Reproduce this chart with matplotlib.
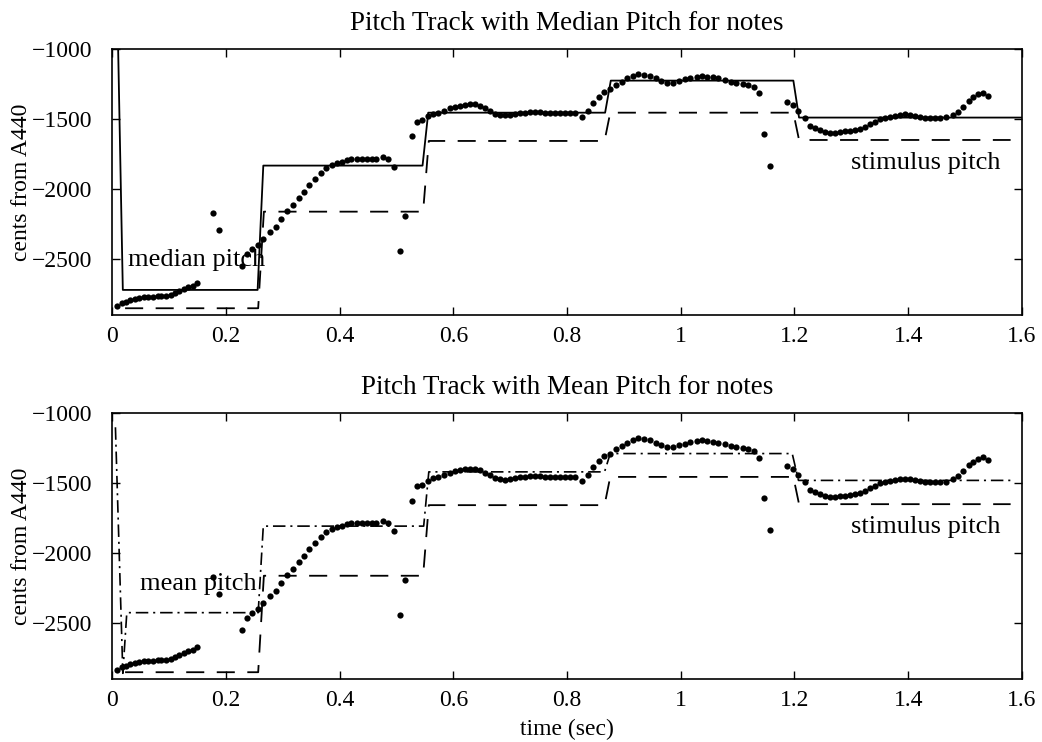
import matplotlib
matplotlib.use("Agg")
import matplotlib.pyplot as plt

# pitch track (time in sec, cents from A440)
track_t = [0.009, 0.017, 0.025, 0.032, 0.040, 0.048, 0.056, 0.064, 0.072, 0.080,
           0.087, 0.095, 0.103, 0.111, 0.118, 0.126, 0.134, 0.142, 0.149,
           0.177, 0.188,
           0.228, 0.237, 0.247, 0.257, 0.266, 0.278, 0.288, 0.297, 0.307, 0.318,
           0.328, 0.338, 0.347, 0.357, 0.367, 0.376, 0.386, 0.395, 0.404, 0.413,
           0.421, 0.430, 0.439, 0.448, 0.457, 0.465, 0.476, 0.486, 0.496,
           0.506, 0.516,
           0.527, 0.536, 0.545, 0.556, 0.565, 0.574, 0.583, 0.594, 0.603, 0.612,
           0.621, 0.629, 0.638, 0.647, 0.656, 0.665, 0.673, 0.682, 0.691, 0.700,
           0.709, 0.717, 0.726, 0.735, 0.744, 0.753, 0.761, 0.770, 0.779, 0.788,
           0.796, 0.805, 0.814, 0.826, 0.837, 0.846, 0.857, 0.865, 0.876, 0.886,
           0.896, 0.905, 0.916, 0.925, 0.935, 0.946, 0.956, 0.966, 0.976, 0.987,
           0.997, 1.007, 1.017, 1.028, 1.037, 1.047, 1.057, 1.066, 1.078, 1.088,
           1.098, 1.109, 1.119, 1.128, 1.138, 1.147, 1.157,
           1.187, 1.198, 1.207, 1.218, 1.227, 1.236, 1.245, 1.254, 1.262, 1.271,
           1.280, 1.289, 1.297, 1.306, 1.315, 1.324, 1.333, 1.342, 1.350, 1.359,
           1.368, 1.377, 1.385, 1.394, 1.403, 1.412, 1.421, 1.429, 1.438, 1.447,
           1.456, 1.467, 1.479, 1.488, 1.497, 1.506, 1.514, 1.523, 1.532, 1.541]
track_c = [-2834, -2817, -2805, -2793, -2786, -2779, -2774, -2771, -2769, -2766,
           -2764, -2762, -2757, -2745, -2731, -2714, -2702, -2693, -2671,
           -2169, -2290,
           -2550, -2467, -2431, -2402, -2355, -2307, -2269, -2212, -2157, -2117,
           -2067, -2021, -1974, -1926, -1883, -1852, -1829, -1812, -1805, -1795,
           -1788, -1783, -1783, -1783, -1783, -1783, -1771, -1788, -1841,
           -2440, -2193,
           -1624, -1519, -1510, -1481, -1464, -1455, -1440, -1424, -1412, -1405,
           -1400, -1395, -1395, -1405, -1424, -1443, -1464, -1471, -1474, -1471,
           -1464, -1459, -1455, -1452, -1452, -1452, -1455, -1455, -1455, -1455,
           -1455, -1455, -1459, -1483, -1440, -1383, -1340, -1309, -1288, -1257,
           -1233, -1210, -1190, -1179, -1184, -1191, -1210, -1226, -1240, -1240,
           -1230, -1217, -1205, -1198, -1193, -1198, -1202, -1210, -1221, -1233,
           -1240, -1250, -1257, -1269, -1317, -1609, -1838,
           -1378, -1400, -1440, -1490, -1548, -1562, -1578, -1590, -1598, -1598,
           -1593, -1588, -1583, -1579, -1569, -1555, -1536, -1519, -1502, -1490,
           -1483, -1476, -1470, -1468, -1472, -1479, -1485, -1490, -1493, -1495,
           -1495, -1488, -1471, -1448, -1412, -1370, -1345, -1325, -1313, -1333]

# stimulus pitch breakpoints
stim_t = [0.023, 0.257, 0.267, 0.547, 0.557, 0.866, 0.876, 1.198, 1.208, 1.580]
stim_c = [-2852, -2852, -2162, -2162, -1657, -1657, -1455, -1455, -1650, -1650]

# median pitch per note
med_t = [0.006, 0.019, 0.256, 0.266, 0.546, 0.556, 0.867, 0.877, 1.198, 1.208, 1.600]
med_c = [0, -2721, -2721, -1833, -1833, -1455, -1455, -1226, -1226, -1490, -1490]

# mean pitch per note
mean_t = [0.006, 0.019, 0.026, 0.257, 0.266, 0.548, 0.557, 0.866, 0.876, 1.196, 1.207, 1.585]
mean_c = [-1100, -2860, -2426, -2426, -1807, -1807, -1419, -1419, -1288, -1288, -1480, -1480]

plt.rcParams["font.family"] = ["Liberation Serif", "DejaVu Serif"]
plt.rcParams["font.size"] = 17
plt.rcParams["lines.scale_dashes"] = False

fig = plt.figure(figsize=(10.42, 7.42), dpi=100)
ax1 = fig.add_axes([0.1075, 0.5755, 0.8733, 0.3585])
ax2 = fig.add_axes([0.1075, 0.085, 0.8733, 0.358])

DASH = (13, 9)
DASHDOT = (9, 3.5, 1.5, 3.5)

for ax in (ax1, ax2):
    ax.plot(stim_t, stim_c, color="black", lw=1.3, dashes=DASH)
    ax.plot(track_t, track_c, "o", color="black", ms=4.5, mew=0)
    ax.set_xlim(0, 1.6)
    ax.set_ylim(-2900, -1000)
    ax.set_yticks([-2500, -2000, -1500, -1000])
    ax.set_xticks([0, 0.2, 0.4, 0.6, 0.8, 1.0, 1.2, 1.4, 1.6])
    ax.set_xticklabels(["0", "0.2", "0.4", "0.6", "0.8", "1", "1.2", "1.4", "1.6"])
    ax.tick_params(direction="in", top=True, right=True, length=6, width=1,
                   labelsize=17)
    ax.tick_params(axis="x", pad=8)
    ax.tick_params(axis="y", pad=14)
    for s in ax.spines.values():
        s.set_linewidth(1.2)
    ax.set_ylabel("cents from A440", fontsize=17)
    ax.yaxis.set_label_coords(-0.088, 0.5)
    ax.text(1.300, -1815, "stimulus pitch", va="center", ha="left", fontsize=19)

ax1.plot(med_t, med_c, color="black", lw=1.3)
ax1.text(0.028, -2510, "median pitch", va="center", ha="left", fontsize=19)
ax1.set_title("Pitch Track with Median Pitch for notes", fontsize=19.5, pad=14)

ax2.plot(mean_t, mean_c, color="black", lw=1.2, dashes=DASHDOT)
ax2.text(0.049, -2221, "mean pitch", va="center", ha="left", fontsize=19)
ax2.set_title("Pitch Track with Mean Pitch for notes", fontsize=19.5, pad=14)
ax2.set_xlabel("time (sec)", fontsize=17, labelpad=6)

fig.savefig("out.png", dpi=100)
